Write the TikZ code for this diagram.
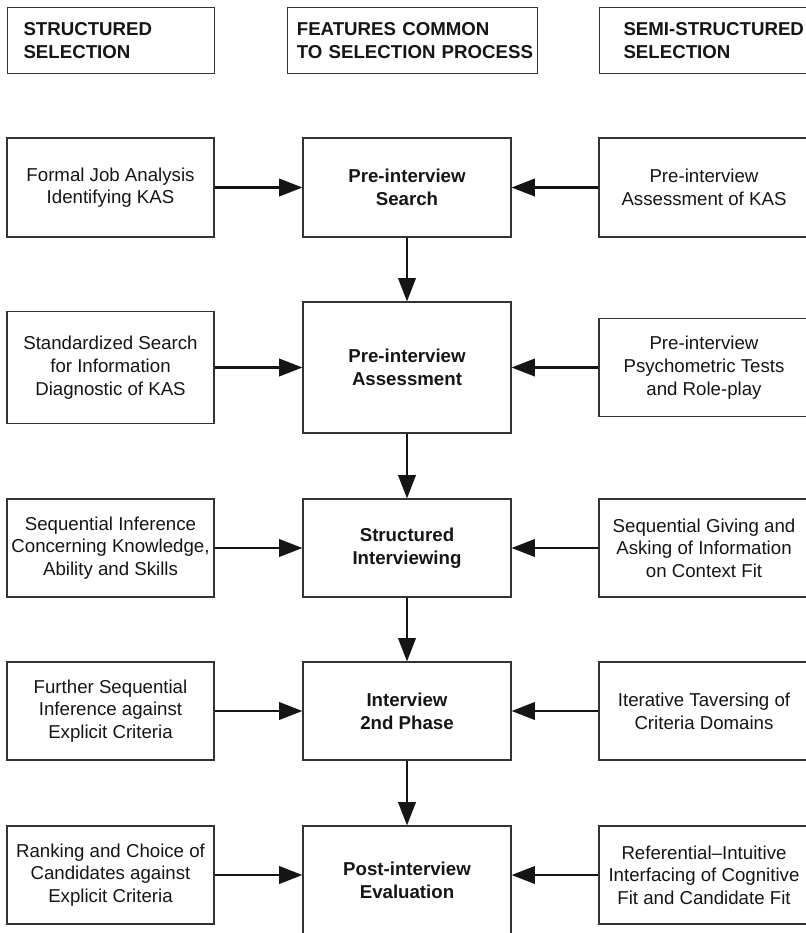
\documentclass[tikz,border=0pt]{standalone}
\usepackage{fontspec}
\setmainfont{Liberation Sans}
\usetikzlibrary{arrows.meta}
\definecolor{rule}{HTML}{333333}
\definecolor{ink}{HTML}{151515}

\begin{document}
\begin{tikzpicture}[x=0.75pt,y=-0.75pt,
    box/.style={draw=rule,line width=0.8pt,align=center,inner sep=2pt,text=ink,
      font=\fontsize{14}{17}\selectfont},
    lcol/.style={box,minimum width=155.25pt},
    mcol/.style={box,minimum width=156pt,font=\fontsize{14}{17}\selectfont\bfseries},
    rcol/.style={box,minimum width=157.5pt},
    hdr/.style={draw=rule,line width=0.8pt,align=left,anchor=north west,text=ink,
      minimum height=49.5pt,font=\fontsize{14}{17}\selectfont\bfseries},
    flow/.style={ink,line width=2pt,-{Triangle[length=17.5pt,width=13pt]}}]
        \path[use as bounding box,clip] (0,0) rectangle (806,933);
        % column headings
        \node[hdr,text width=131.25pt,inner xsep=12pt] (hl) at (7,7) {\mbox{STRUCTURED}\\\mbox{SELECTION}};
        \node[hdr,text width=173.5pt,inner xsep=7pt] (hm) at (287,7) {\mbox{FEATURES COMMON}\\\mbox{TO SELECTION PROCESS}};
        \node[hdr,text width=136pt,inner xsep=18pt] (hr) at (599,7) {\mbox{SEMI-STRUCTURED}\\\mbox{SELECTION}};
        % row 1
        \node[lcol,minimum height=74.25pt] (l1) at (110.5,187.5) {Formal Job Analysis\\Identifying KAS};
        \node[mcol,minimum height=74.25pt] (m1) at (407,187.5) {Pre-interview\\Search};
        \node[rcol,minimum height=74.25pt] (r1) at (704,187.5) {Pre-interview\\Assessment of KAS};
        % row 2
        \node[lcol,minimum height=84pt] (l2) at (110.5,367.5) {Standardized Search\\for Information\\Diagnostic of KAS};
        \node[mcol,minimum height=98.25pt] (m2) at (407,367.5) {Pre-interview\\Assessment};
        \node[rcol,minimum height=73.5pt] (r2) at (704,367.5) {Pre-interview\\Psychometric Tests\\and Role-play};
        % row 3
        \node[lcol,minimum height=73.5pt] (l3) at (110.5,548) {Sequential Inference\\Concerning Knowledge,\\Ability and Skills};
        \node[mcol,minimum height=73.5pt] (m3) at (407,548) {Structured\\Interviewing};
        \node[rcol,minimum height=73.5pt] (r3) at (704,548) {Sequential Giving and\\Asking of Information\\on Context Fit};
        % row 4
        \node[lcol,minimum height=73.5pt] (l4) at (110.5,711) {Further Sequential\\Inference against\\Explicit Criteria};
        \node[mcol,minimum height=73.5pt] (m4) at (407,711) {Interview\\2nd Phase};
        \node[rcol,minimum height=73.5pt] (r4) at (704,711) {Iterative Taversing of\\Criteria Domains};
        % row 5
        \node[lcol,minimum height=73.5pt] (l5) at (110.5,875) {Ranking and Choice of\\Candidates against\\Explicit Criteria};
        \node[mcol,minimum height=81pt] (m5) at (407,880) {Post-interview\\Evaluation};
        \node[rcol,minimum height=73.5pt] (r5) at (704,875) {Referential–Intuitive\\Interfacing of Cognitive\\Fit and Candidate Fit};
        % connectors
        \foreach \row in {1,2,3,4}{
          \draw[flow] (l\row) -- (m\row);
          \draw[flow] (r\row) -- (m\row);
        }
        \draw[flow] (l5.east) -- (l5.east -| m5.west);
        \draw[flow] (r5.west) -- (r5.west -| m5.east);
        \draw[flow] (m1) -- (m2);
        \draw[flow] (m2) -- (m3);
        \draw[flow] (m3) -- (m4);
        \draw[flow] (m4) -- (m5);
      \end{tikzpicture}
\end{document}
